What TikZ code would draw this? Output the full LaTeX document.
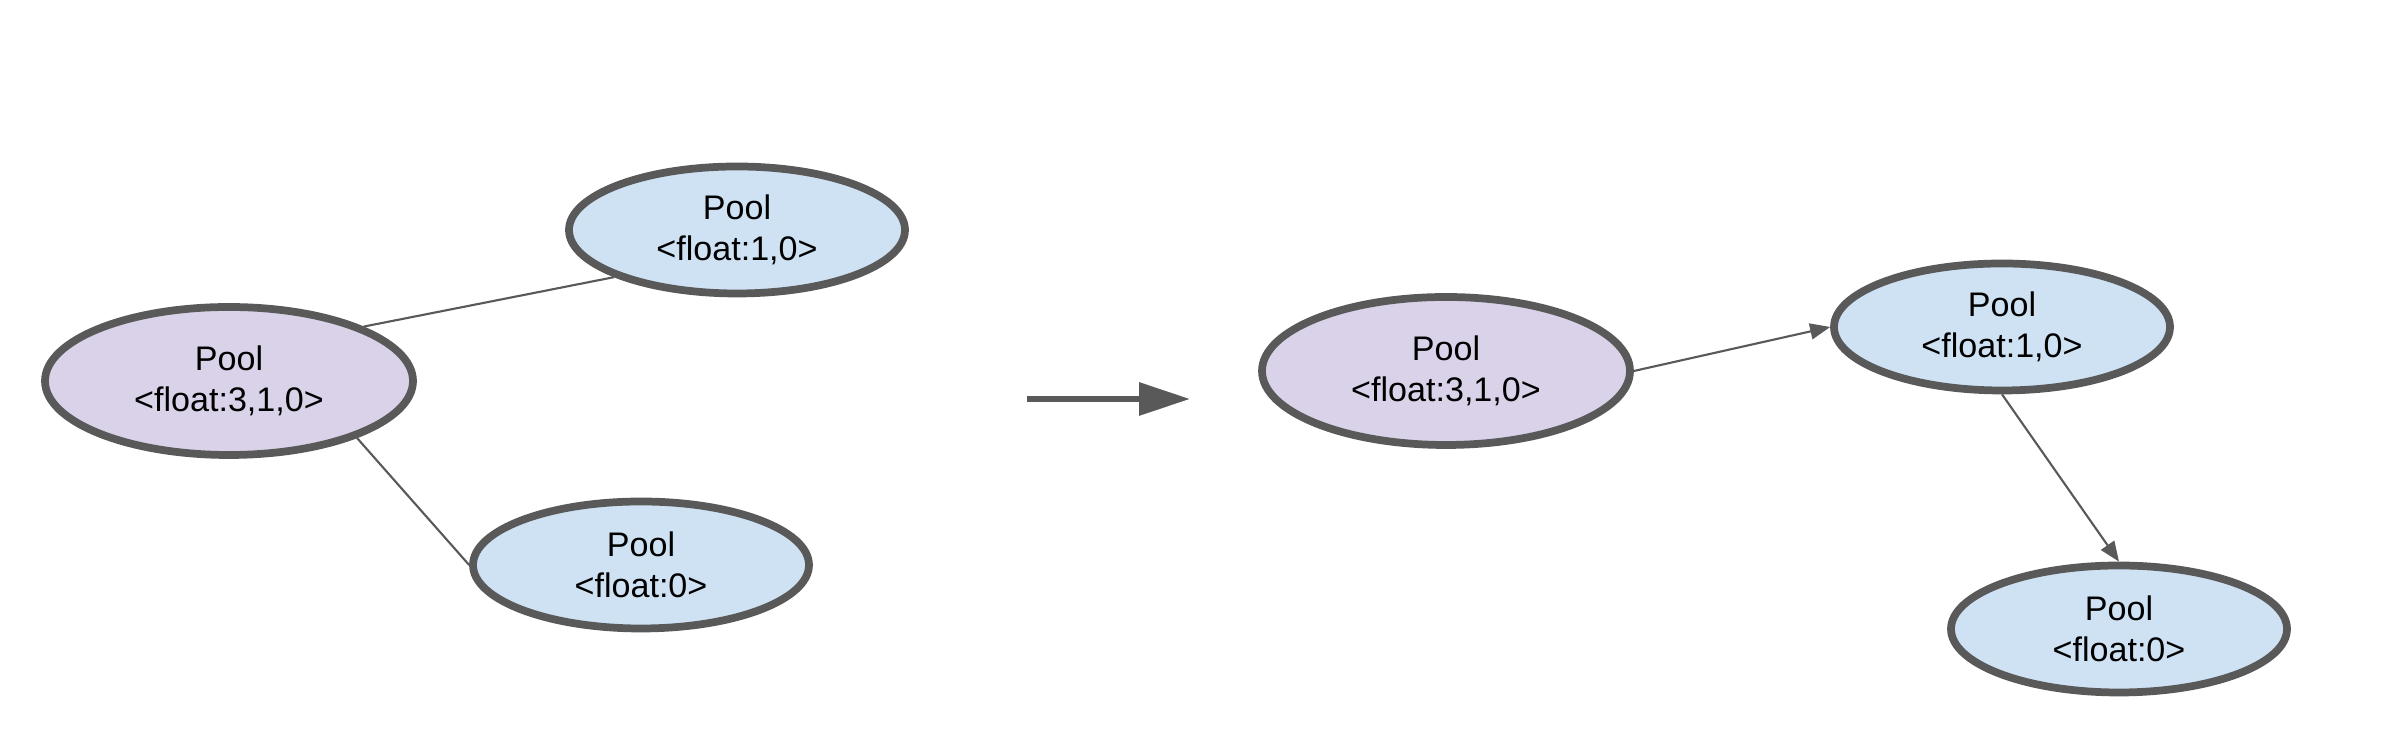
\documentclass[tikz,border=0pt]{standalone}
\usepackage{fontspec}
\setmainfont{Liberation Sans}
\usetikzlibrary{shapes,arrows.meta,positioning}
\definecolor{edge}{HTML}{595959}
\definecolor{lilac}{HTML}{D9D2E9}
\definecolor{sky}{HTML}{CFE2F3}

\begin{document}
\begin{tikzpicture}[
  pool/.style={ellipse, draw=edge, line width=2.2pt, fill=#1, inner sep=0pt, align=center,
    font=\fontsize{9.7}{11.5}\selectfont},
  big/.style={pool=lilac, minimum width=3.68cm, minimum height=1.48cm},
  small/.style={pool=sky, minimum width=3.36cm, minimum height=1.27cm},
  link/.style={edge, line width=0.6pt},
  arr/.style={-{Triangle[length=2mm, width=1.6mm]}, edge, line width=0.6pt}
]
  \useasboundingbox (0,0) rectangle (23.98,7.54);

  \node[big] (l3) at (2.29,3.73) {Pool\\<float:3,1,0>};
  \node[small] (l1) at (7.37,5.24) {Pool\\<float:1,0>};
  \node[small] (l0) at (6.41,1.89) {Pool\\<float:0>};

  \draw[link] (l3.22) -- (l1.201);
  \draw[link] (l3.336) -- (l0.west);

  \coordinate (go) at (10.27,3.55);
  \coordinate (to) at (11.90,3.55);
  \draw[-{Triangle[length=5.1mm, width=3.2mm]}, edge, line width=1.8pt] (go) -- (to);

  \node[big] (r3) at (14.46,3.83) {Pool\\<float:3,1,0>};
  \node[small] (r1) at (20.02,4.27) {Pool\\<float:1,0>};
  \node[small] (r0) at (21.19,1.25) {Pool\\<float:0>};

  \draw[arr] (r3.east) -- (r1.west);
  \draw[arr] (r1.south) -- (r0.north);
\end{tikzpicture}
\end{document}
